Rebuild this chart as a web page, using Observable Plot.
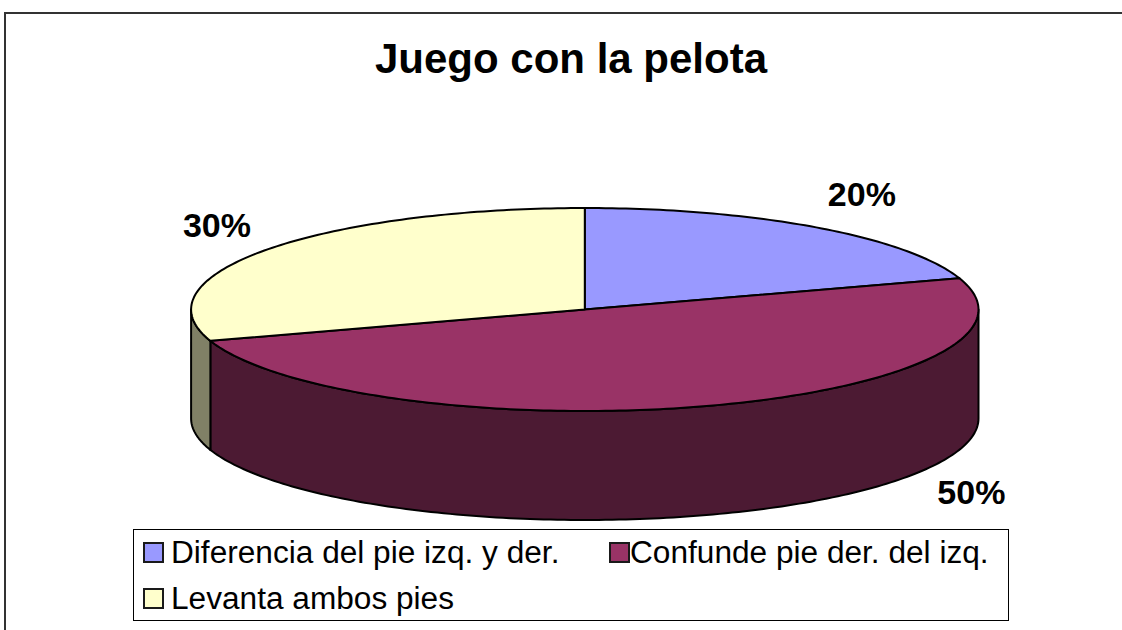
<!DOCTYPE html>
<html><head><meta charset="utf-8">
<script src="https://cdn.jsdelivr.net/npm/d3@7"></script>
<script src="https://cdn.jsdelivr.net/npm/@observablehq/plot@0.6"></script>
<style>
body{margin:0;background:#fff;font-family:"Liberation Sans",Arial,sans-serif;}
#wrap{position:relative;width:1122px;height:630px;overflow:hidden;background:#fff}
#frame{position:absolute;left:4px;top:12px;width:1200px;height:700px;border:2px solid #333;box-sizing:border-box}
#title{position:absolute;left:0;width:1142px;top:38px;text-align:center;font-weight:bold;font-size:42px;line-height:42px;color:#000}
#chart{position:absolute;left:0;top:0}
#legend{position:absolute;left:133px;top:529px;width:876px;height:92px;border:1px solid #000;box-sizing:border-box;background:#fff}
.item{position:absolute;font-size:31px;line-height:31px;white-space:nowrap;color:#000;transform:scaleX(1.02);transform-origin:0 0}
.sw{position:absolute;width:21px;height:21px;border:2px solid #1a1a1a;box-sizing:border-box}
</style></head>
<body>
<div id="wrap">
  <div id="frame"></div>
  <div id="chart"></div>
  <div id="title"></div>
  <div id="legend"></div>
</div>
<script>
// ---- data ----
const title = "Juego con la pelota";
const categories = ["Diferencia del pie izq. y der.", "Confunde pie der. del izq.", "Levanta ambos pies"];
const percents = [20, 50, 30];
const valueLabels = ["20%", "50%", "30%"];
// ---- styles ----
const topColors = ["#9999FF", "#993366", "#FFFFCC"];
const sideColors = ["#4D4D80", "#4C1A33", "#808066"];
// ---- layout ----
const cx = 584.3, cy = 309, rx = 393.7, ry = 101.5, depth = 109;
const depthU = depth / ry;
const labelRadial = [1.18, 1.39];
const labelNudge = [[4, 0], [243, 49], [8, 0]];
const legendSlots = [{sx: 9, sy: 12, tx: 37, ty: 7}, {sx: 475, sy: 12, tx: 496, ty: 7}, {sx: 9, sy: 58, tx: 37, ty: 53}];

document.getElementById("title").textContent = title;

const total = d3.sum(percents);
let acc = 0;
const slices = percents.map((p, i) => {
  const a0 = acc / total * 360; acc += p; const a1 = acc / total * 360;
  return {i, a0, a1, mid: (a0 + a1) / 2};
});

function arcPts(a0, a1, off) {
  const n = Math.max(2, Math.ceil(Math.abs(a1 - a0)));
  const pts = [];
  for (let k = 0; k <= n; k++) {
    const a = (a0 + (a1 - a0) * k / n) * Math.PI / 180;
    pts.push({u: Math.sin(a), v: -Math.cos(a) + off});
  }
  return pts;
}

const marks = [];
// side walls (visible front half: 90..270 deg)
slices.forEach(s => {
  const s0 = Math.max(s.a0, 90), s1 = Math.min(s.a1, 270);
  if (s1 > s0) {
    const pts = arcPts(s0, s1, 0).concat(arcPts(s1, s0, depthU));
    pts.push(pts[0]);
    marks.push(Plot.line(pts, {x: "u", y: "v", fill: sideColors[s.i], stroke: "#000", strokeWidth: 2, curve: "linear"}));
  }
});
// top faces
slices.forEach(s => {
  const pts = [{u: 0, v: 0}].concat(arcPts(s.a0, s.a1, 0), [{u: 0, v: 0}]);
  marks.push(Plot.line(pts, {x: "u", y: "v", fill: topColors[s.i], stroke: "#000", strokeWidth: 2, curve: "linear"}));
});
// value labels
const labelData = slices.map(s => {
  const m = s.mid * Math.PI / 180;
  return {
    label: valueLabels[s.i],
    u: Math.sin(m) * labelRadial[0] + labelNudge[s.i][0] / rx,
    v: -Math.cos(m) * labelRadial[1] + labelNudge[s.i][1] / ry
  };
});
marks.push(Plot.text(labelData, {x: "u", y: "v", text: "label", fontSize: 34, fontWeight: "bold", fill: "#000", fontFamily: "Liberation Sans, Arial, sans-serif"}));

const chart = Plot.plot({
  width: 1122, height: 630, margin: 0,
  x: {domain: [-1, 1], range: [cx - rx, cx + rx], axis: null},
  y: {domain: [-1, 1], range: [cy - ry, cy + ry], axis: null},
  style: {background: "transparent", overflow: "visible"},
  marks
});
document.getElementById("chart").appendChild(chart);

// legend
const legend = document.getElementById("legend");
categories.forEach((c, i) => {
  const slot = legendSlots[i];
  const sw = document.createElement("div");
  sw.className = "sw";
  sw.style.left = slot.sx + "px"; sw.style.top = slot.sy + "px";
  sw.style.background = topColors[i];
  legend.appendChild(sw);
  const t = document.createElement("div");
  t.className = "item";
  t.style.left = slot.tx + "px"; t.style.top = slot.ty + "px";
  t.textContent = c;
  legend.appendChild(t);
});
</script>
</body></html>
